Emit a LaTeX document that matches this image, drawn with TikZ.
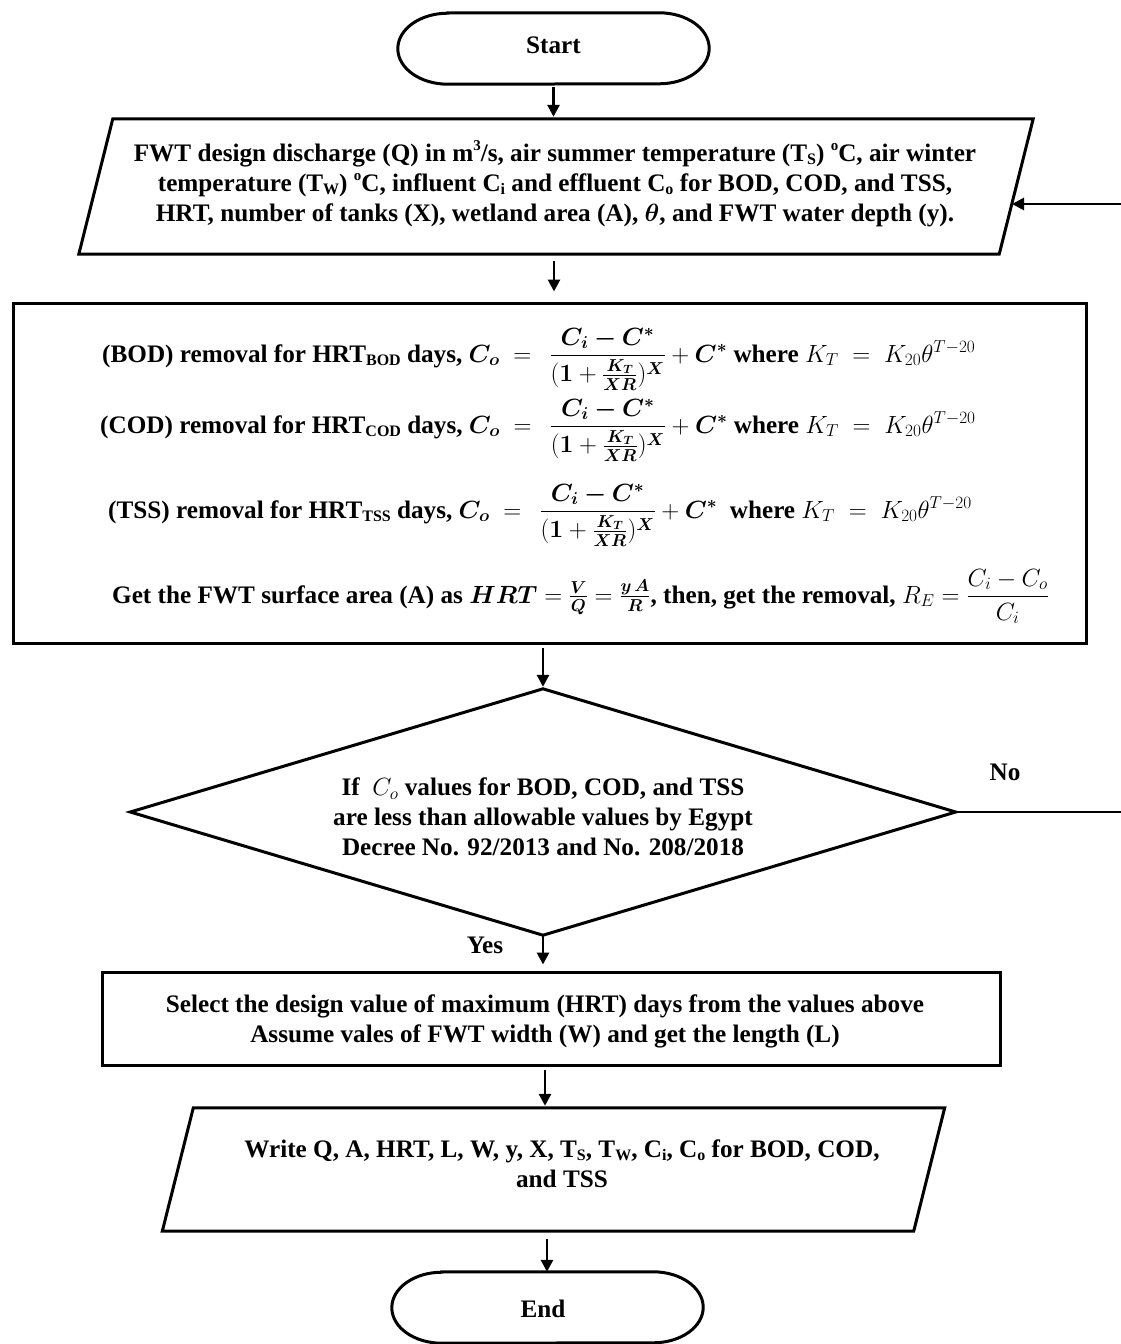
\documentclass[tikz,border=0pt]{standalone}
\usepackage{amsmath,bm}
\usepackage{fontspec}
\setmainfont{Liberation Serif}
\usetikzlibrary{arrows.meta}
\newcommand{\lsub}[1]{\raisebox{-0.12em}{\fontsize{16}{16}\selectfont #1}}
\newcommand{\lsup}[1]{\raisebox{0.45em}{\fontsize{15}{15}\selectfont #1}}
\begin{document}
\begin{tikzpicture}[x=1pt,y=-1pt,
  shp/.style={line width=3pt,line join=miter},
  conn/.style={line width=2.8pt,-{Triangle[length=12pt,width=12pt]},shorten <=3pt,shorten >=2pt},
  fnt/.style={font=\bfseries\fontsize{25.2}{30}\selectfont},
  txt/.style={fnt,align=center,inner sep=0pt},
  box/.style={draw=none,inner sep=0pt},
  eqline/.style={fnt,inner sep=0pt,anchor=base west}]
\useasboundingbox (0,0) rectangle (1120,1344);
\fill[white] (0,0) rectangle (1120,1344);

% ---------- Start ----------
\node[box,minimum width=311pt,minimum height=71pt] (start) at (553.5,48.5) {};
\draw[shp] ([xshift=50pt]start.north west) -- ([xshift=-50pt]start.north east)
  arc[start angle=90,end angle=-90,x radius=50pt,y radius=35.5pt]
  -- ([xshift=50pt]start.south west)
  arc[start angle=270,end angle=90,x radius=50pt,y radius=35.5pt] -- cycle;
\node[txt] (starttxt) at (553.5,45) {Start};

% ---------- Input parallelogram ----------
\node[box,minimum width=920pt,minimum height=135pt] (in) at (556,186.5) {};
\draw[shp] ([xshift=17pt]in.north west) -- ([xshift=17pt]in.north east)
  -- ([xshift=-17pt]in.south east) -- ([xshift=-17pt]in.south west) -- cycle;
\node[txt] (intxt) at (555,184) {FWT design discharge (Q) in m\lsup{3}/s, air summer temperature (T\lsub{S}) \lsup{o}C, air winter\\
temperature (T\lsub{W}) \lsup{o}C, influent C\lsub{i} and effluent C\lsub{o} for BOD, COD, and TSS,\\
HRT, number of tanks (X), wetland area (A), $\bm{\theta}$, and FWT water depth (y).};
\coordinate (fb) at (1012,204);

% ---------- Process box ----------
\node[box,draw,shp,minimum width=1073pt,minimum height=340pt] (proc) at (549.5,473) {};
\node[eqline] (l1) at (102,362) {(BOD) removal for HRT\lsub{BOD} days, $\bm{C_o}\;=\;\,\dfrac{\bm{C_i-C^*}}{(\bm{1}+\frac{\bm{K_T}}{\bm{XR}})^{\bm{X}}}+\bm{C^*}$\ where $K_T\;=\;K_{20}\theta^{T-20}$};
\node[eqline] (l2) at (100,433) {(COD) removal for HRT\lsub{COD} days, $\bm{C_o}\;=\;\,\dfrac{\bm{C_i-C^*}}{(\bm{1}+\frac{\bm{K_T}}{\bm{XR}})^{\bm{X}}}+\bm{C^*}$\ where $K_T\;=\;K_{20}\theta^{T-20}$};
\node[eqline] (l3) at (108,518) {(TSS) removal for HRT\lsub{TSS} days, $\bm{C_o}\;=\;\,\dfrac{\bm{C_i-C^*}}{(\bm{1}+\frac{\bm{K_T}}{\bm{XR}})^{\bm{X}}}+\bm{C^*}$\ \ where $K_T\;=\;K_{20}\theta^{T-20}$};
\node[eqline] (l4) at (112,603) {Get the FWT surface area (A) as $\bm{HRT}=\frac{\bm{V}}{\bm{Q}}=\frac{\bm{y\,A}}{\bm{R}}$, then, get the removal, $R_E=\dfrac{C_i-C_o}{C_i}$};

% ---------- Decision ----------
\node[box,minimum width=825pt,minimum height=246pt] (dec) at (543,812) {};
\draw[shp] (dec.north) -- (dec.east) -- (dec.south) -- (dec.west) -- cycle;
\node[txt] (dectxt) at (543,817) {If~ $C_o$ values for BOD, COD, and TSS\\ are less than allowable values by Egypt\\ Decree No. 92/2013 and No. 208/2018};
\node[txt] (no) at (1005,772) {No};
\node[txt] (yes) at (485,945) {Yes};

% ---------- Select box ----------
\node[box,draw,shp,minimum width=898pt,minimum height=93pt] (sel) at (551,1018.5) {};
\node[txt] (seltxt) at (545,1021) {Select the design value of maximum (HRT) days from the values above\\ Assume vales of FWT width (W) and get the length (L)};

% ---------- Output parallelogram ----------
\node[box,minimum width=751pt,minimum height=123pt] (out) at (553.5,1169.5) {};
\draw[shp] ([xshift=15.5pt]out.north west) -- ([xshift=15.5pt]out.north east)
  -- ([xshift=-15.5pt]out.south east) -- ([xshift=-15.5pt]out.south west) -- cycle;
\node[txt] (outtxt) at (562,1164) {Write Q, A, HRT, L, W, y, X, T\lsub{S}, T\lsub{W}, C\lsub{i}, C\lsub{o} for BOD, COD,\\ and TSS};

% ---------- End ----------
\node[box,minimum width=311pt,minimum height=71pt] (end) at (547.5,1307.5) {};
\draw[shp] ([xshift=50pt]end.north west) -- ([xshift=-50pt]end.north east)
  arc[start angle=90,end angle=-90,x radius=50pt,y radius=35.5pt]
  -- ([xshift=50pt]end.south west)
  arc[start angle=270,end angle=90,x radius=50pt,y radius=35.5pt] -- cycle;
\node[txt] (endtxt) at (543,1309) {End};

% ---------- Connectors ----------
\draw[conn] (start.south) -- (start.south |- in.north);
\draw[conn,shorten <=7pt,shorten >=10pt] (in.south -| 554,0) -- (proc.north -| 554,0);
\draw[conn] (dec.north |- proc.south) -- (dec.north);
\draw[conn,shorten <=1pt,shorten >=6pt] (dec.south) -- (dec.south |- sel.north);
\draw[conn] (sel.south -| 545,0) -- (out.north -| 545,0);
\draw[conn,shorten <=8pt,shorten >=0pt] (out.south -| 547,0) -- (end.north -| 547,0);
\draw[line width=2.8pt,-{Triangle[length=12pt,width=12pt]}] (dec.east) -- (1128,812) -- (1128,204) -- (fb);
\end{tikzpicture}
\end{document}
